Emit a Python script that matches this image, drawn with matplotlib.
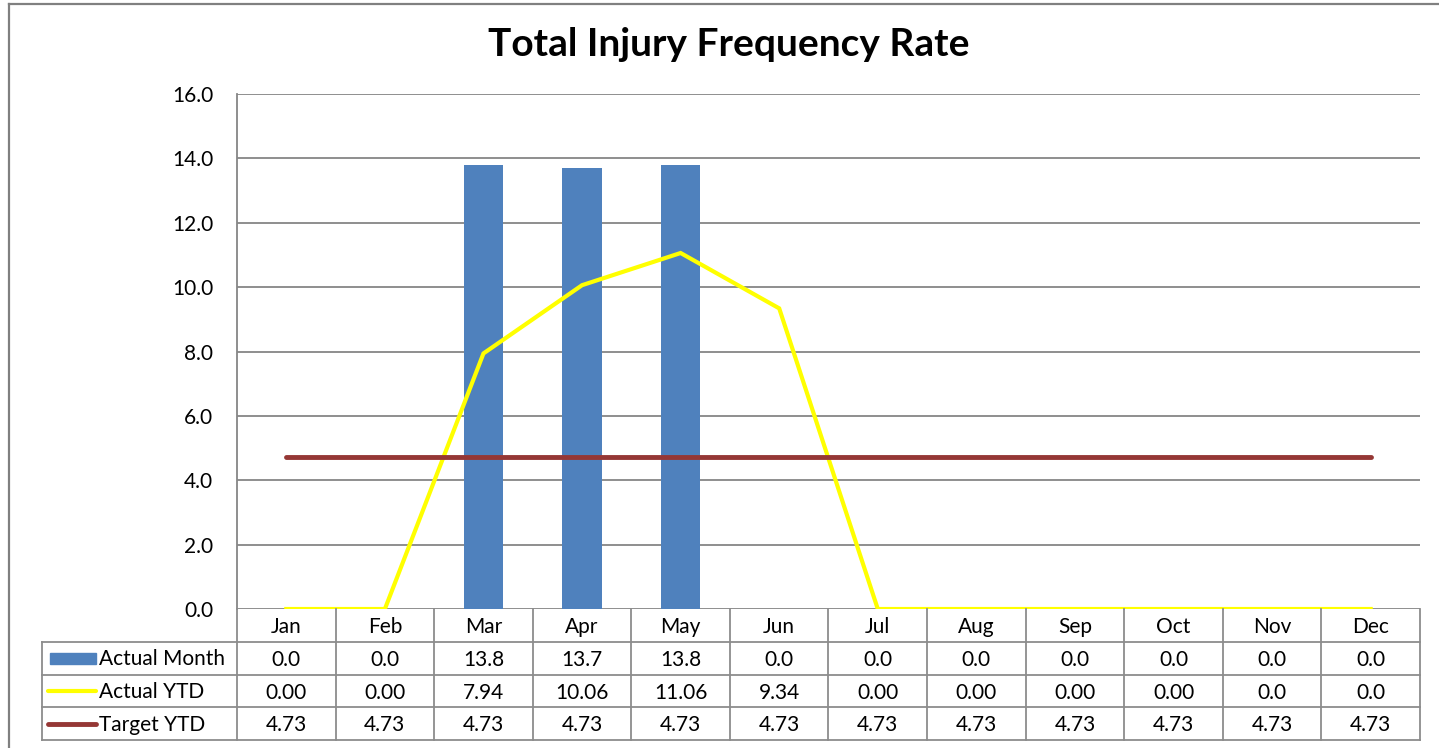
import numpy as np
from matplotlib import pyplot as plt
from matplotlib.lines import Line2D
from matplotlib.patches import Rectangle

# data
months = ['Jan', 'Feb', 'Mar', 'Apr', 'May', 'Jun', 'Jul', 'Aug', 'Sep', 'Oct', 'Nov', 'Dec']
actual_month = [0.0, 0.0, 13.8, 13.7, 13.8, 0.0, 0.0, 0.0, 0.0, 0.0, 0.0, 0.0]
actual_ytd = [0.00, 0.00, 7.94, 10.06, 11.06, 9.34, 0.00, 0.00, 0.00, 0.00, 0.0, 0.0]
target_ytd = [4.73] * 12
month_txt = ['0.0'] * 2 + ['13.8', '13.7', '13.8'] + ['0.0'] * 7
ytd_txt = ['0.00', '0.00', '7.94', '10.06', '11.06', '9.34', '0.00', '0.00', '0.00', '0.00', '0.0', '0.0']
target_txt = ['4.73'] * 12
series_names = ['Actual Month', 'Actual YTD', 'Target YTD']

BLUE = '#4F81BD'
YELLOW = '#FFFF00'
RED = '#953735'
GRID = '#868686'
FONT = 'Lato'
FS = 15

W, H = 1439, 748
fig = plt.figure(figsize=(W / 100, H / 100), dpi=100)

def fx(px):
    return px / W

def fy(py):
    return 1 - py / H

# outer chart frame (left + top)
fig.add_artist(Line2D([fx(9), fx(9)], [fy(4), fy(748)], color='#808080', lw=1.6))
fig.add_artist(Line2D([fx(9), fx(1439)], [fy(4), fy(4)], color='#808080', lw=1.6))

x0, x1, ytop, ybot = 237, 1420, 94, 609
ax = fig.add_axes([fx(x0), fy(ybot), fx(x1) - fx(x0), fy(ytop) - fy(ybot)])
x = np.arange(len(months))

ax.bar(x, actual_month, width=0.4, color=BLUE, zorder=2)
ax.plot(x, actual_ytd, color=YELLOW, lw=3.0, zorder=3, solid_joinstyle='miter')
ax.plot(x, target_ytd, color=RED, lw=3.5, zorder=3, solid_capstyle='round')

ax.set_xlim(-0.5, 11.5)
ax.set_ylim(0, 16)
ax.set_yticks(np.arange(0, 17, 2))
ax.set_yticklabels(['%.1f' % v for v in np.arange(0, 17, 2)], fontsize=FS, family=FONT)
ax.set_xticks([])
ax.tick_params(axis='y', length=0, pad=17)
ax.yaxis.grid(True, color=GRID, lw=1.3)
ax.set_axisbelow(True)
for s in ['top', 'right', 'bottom']:
    ax.spines[s].set_visible(False)
ax.spines['left'].set_color(GRID)
ax.spines['left'].set_linewidth(1.3)

fig.text(fx(729), fy(44), 'Total Injury Frequency Rate', ha='center', va='center',
         fontsize=28, fontweight='bold', family=FONT)

# data table below the plot
tab = fig.add_axes([fx(x0), fy(740), fx(x1) - fx(x0), fy(609) - fy(740)])
tab.set_xlim(-0.5, 11.5)
tab.set_ylim(4, 0)
tab.axis('off')
xl = -0.5 - (237 - 42) / ((x1 - x0) / 12)
tcol = '#8C8C8C'
for i in range(13):
    tab.plot([i - 0.5, i - 0.5], [0, 4], color=tcol, lw=1.3, clip_on=False)
for r in range(1, 5):
    tab.plot([xl, 11.5], [r, r], color=tcol, lw=1.3, clip_on=False)
tab.plot([xl, xl], [1, 4], color=tcol, lw=1.3, clip_on=False)

for i, m in enumerate(months):
    tab.text(i, 0.55, m, ha='center', va='center', fontsize=FS, family=FONT)
for r, row in enumerate([month_txt, ytd_txt, target_txt]):
    for i, t in enumerate(row):
        tab.text(i, r + 1.55, t, ha='center', va='center', fontsize=FS, family=FONT)

# legend keys in the label column
kx0 = xl + 0.06
kx1 = xl + 0.55
tab.add_patch(Rectangle((kx0 + 0.02, 1.35), kx1 - kx0 - 0.02, 0.32, color=BLUE, clip_on=False))
tab.plot([kx0, kx1], [2.5, 2.5], color=YELLOW, lw=3.0, clip_on=False, solid_capstyle='round')
tab.plot([kx0, kx1], [3.5, 3.5], color=RED, lw=3.5, clip_on=False, solid_capstyle='round')
for r, name in enumerate(series_names):
    tab.text(kx1 + 0.03, r + 1.53, name, ha='left', va='center', fontsize=FS, family=FONT)

fig.savefig('out.png', dpi=100)
